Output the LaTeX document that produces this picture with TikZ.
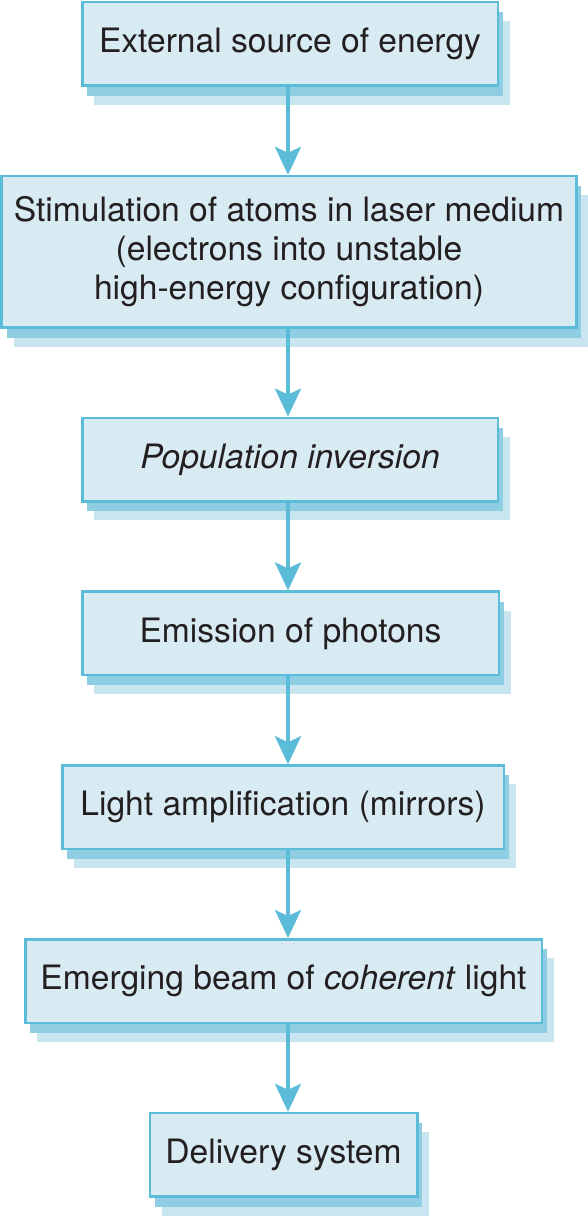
\documentclass[tikz,border=0pt]{standalone}
\usepackage{fontspec}
\setmainfont{TeX Gyre Heros}
\usetikzlibrary{arrows.meta, positioning, shadows}
\definecolor{lsFill}{HTML}{D8EBF3}
\definecolor{lsEdge}{HTML}{5ABCD8}
\definecolor{lsShadeA}{HTML}{8FCDE3}
\definecolor{lsShadeB}{HTML}{C9E5EF}
\definecolor{lsText}{HTML}{231F20}
\tikzset{
  stagebox/.style={
    draw=lsEdge, fill=lsFill, line width=1.25pt, minimum height=41.75pt,
    text=lsText, align=center, inner sep=0pt,
    font=\fontsize{16.8}{19.5}\selectfont,
    general shadow={fill=lsShadeB, shadow xshift=6pt, shadow yshift=-9.5pt},
    general shadow={fill=lsShadeA, shadow xshift=2.5pt, shadow yshift=-5pt}
  },
  stepflow/.style={-{Stealth[length=14pt, width=13pt, inset=3pt]}, line width=1.75pt, lsEdge}
}

\begin{document}
\begin{tikzpicture}[node distance=43.9pt]
  \useasboundingbox (0,0) rectangle (294pt,-610pt);
  \coordinate (axis) at (144pt,0);
  \node[stagebox, minimum width=207.75pt] (source) at (145pt,-22pt) {External source of energy};
  \node[stagebox, minimum width=287.25pt, minimum height=75.75pt, below=of source, xshift=-0.5pt] (stimul)
    {Stimulation of atoms in laser medium\\(electrons into unstable\\high-energy configuration)};
  \node[stagebox, minimum width=207.75pt, below=of stimul, xshift=0.5pt] (invert) {\textit{Population inversion}};
  \node[stagebox, minimum width=208.25pt, below=of invert, xshift=0.25pt] (emit) {Emission of photons};
  \node[stagebox, minimum width=220.75pt, below=of emit, xshift=-3.75pt] (amplify) {Light amplification (mirrors)};
  \node[stagebox, minimum width=258.25pt, below=of amplify, xshift=0.25pt] (beam) {Emerging beam of \textit{coherent} light};
  \node[stagebox, minimum width=133.75pt, below=of beam] (deliver) {Delivery system};
  % connectors down the chain
  \foreach \a/\b in {source/stimul, stimul/invert, invert/emit, emit/amplify, amplify/beam, beam/deliver}
    \draw[stepflow] (\a.south -| axis) -- (\b.north -| axis);
\end{tikzpicture}
\end{document}
